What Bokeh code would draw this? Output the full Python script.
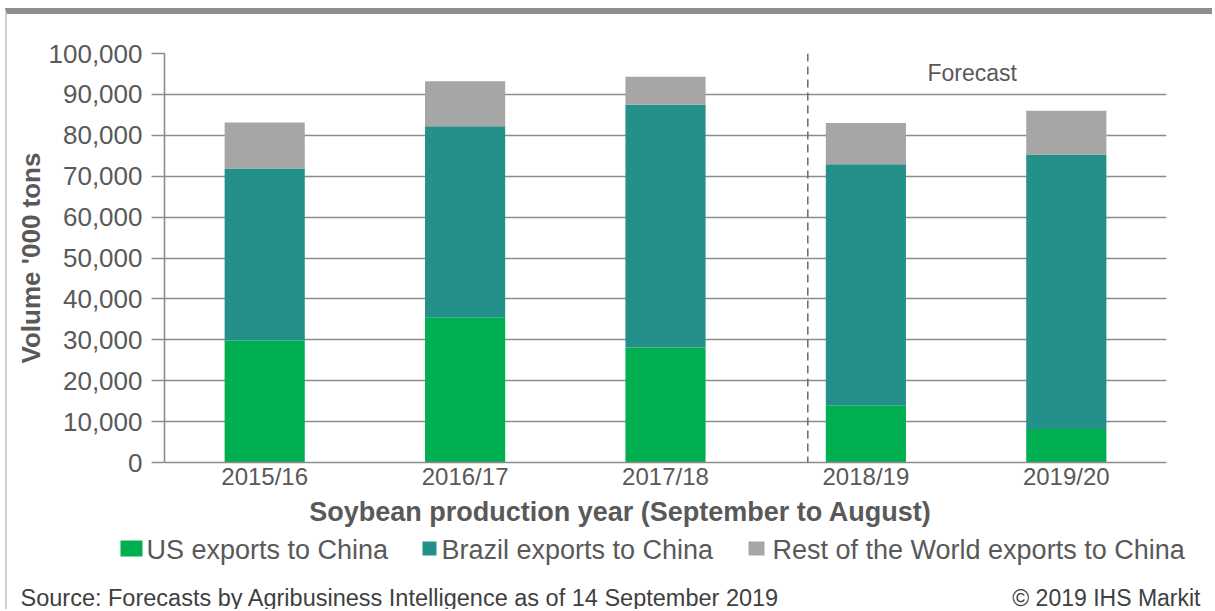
from bokeh.plotting import figure
from bokeh.layouts import column
from bokeh.models import (FactorRange, Range1d, NumeralTickFormatter, Span, Label,
                          ColumnDataSource)
from bokeh.core.properties import value
from bokeh.embed import file_html
from bokeh.resources import INLINE

# ---- data (thousand tons) ----
years = ["2015/16", "2016/17", "2017/18", "2018/19", "2019/20"]
us_exports = [29800, 35500, 28100, 13900, 8200]
brazil_exports = [42100, 46700, 59400, 59000, 67100]
rest_exports = [11200, 11000, 6800, 10100, 10700]
series_names = ["US exports to China", "Brazil exports to China",
                "Rest of the World exports to China"]
series_colors = ["#00b050", "#23918a", "#a6a6a6"]
y_ticks = [0, 10000, 20000, 30000, 40000, 50000, 60000, 70000, 80000, 90000, 100000]
forecast_years = ["2018/19", "2019/20"]
x_title = "Soybean production year (September to August)"
y_title = "Volume '000 tons"
source_text = "Source: Forecasts by Agribusiness Intelligence as of 14 September 2019"
copyright_text = "\u00a9 2019 IHS Markit"

FONT = "Liberation Sans"
TXT = "#595959"
GRID = "#8c8c8c"

W, H1, H2 = 1205, 480, 115
p = figure(x_range=FactorRange(*years), y_range=Range1d(0, 100000),
           width=W, height=H1, output_backend="svg", toolbar_location=None,
           min_border_left=157, min_border_right=46, min_border_top=39,
           min_border_bottom=32)
p.frame_align = False
p.title.visible = False
p.outline_line_color = None

src = ColumnDataSource(dict(year=years, us=us_exports, brazil=brazil_exports,
                            rest=rest_exports))
bar_w = 0.4
rs = p.vbar_stack(["us", "brazil", "rest"], x="year", width=bar_w,
                  color=series_colors, line_color=None, source=src)

# grid
p.xgrid.visible = False
p.ygrid.grid_line_color = GRID
p.ygrid.grid_line_width = 1.6

# y axis
p.yaxis.ticker = y_ticks
p.yaxis.formatter = NumeralTickFormatter(format="0,0")
p.yaxis.axis_line_color = GRID
p.yaxis.axis_line_width = 1.6
p.yaxis.major_tick_line_color = GRID
p.yaxis.major_tick_line_width = 1.6
p.yaxis.major_tick_out = 13
p.yaxis.major_tick_in = 0
p.yaxis.minor_tick_line_color = None
p.yaxis.major_label_standoff = 9
p.yaxis.major_label_text_font = FONT
p.yaxis.major_label_text_font_size = "26px"
p.yaxis.major_label_text_color = TXT
p.yaxis.axis_label = y_title
p.yaxis.axis_label_text_font = FONT
p.yaxis.axis_label_text_font_size = "26px"
p.yaxis.axis_label_text_font_style = "bold"
p.yaxis.axis_label_text_color = TXT
p.yaxis.axis_label_standoff = 0

# x axis (title drawn in the strip below so it can sit left of centre)
p.xaxis.axis_line_color = GRID
p.xaxis.axis_line_width = 1.6
p.xaxis.major_tick_out = 0
p.xaxis.major_tick_in = 0
p.xaxis.major_label_standoff = 0
p.xaxis.major_label_text_font = FONT
p.xaxis.major_label_text_font_size = "24px"
p.xaxis.major_label_text_color = TXT

# forecast divider and label
first_fc = years.index(forecast_years[0])
p.add_layout(Span(location=first_fc + 0.5 - bar_w / 2 - 0.09, dimension="height",
                  line_color="#707070", line_width=1.6, line_dash="8 5"))
fc_center = (first_fc + years.index(forecast_years[-1]) + 1) / 2 + 0.03
p.add_layout(Label(x=fc_center, y=95200, text="Forecast", text_align="center",
                   text_baseline="middle", text_font=FONT, text_font_size="23px",
                   text_color=TXT))

# ---- bottom strip: x title, legend and source notes (pixel coordinates) ----
q = figure(width=W, height=H2, x_range=Range1d(0, W), y_range=Range1d(H2, 0),
           output_backend="svg", toolbar_location=None, min_border=0,
           x_axis_location=None, y_axis_location=None)
q.frame_align = False
q.title.visible = False
q.grid.visible = False
q.outline_line_color = None

q.text(x=[613], y=[17], text=[x_title], text_align="center", text_baseline="middle",
       text_font=value(FONT), text_font_size="27px", text_font_style="bold",
       text_color=TXT)

legend_src = ColumnDataSource(dict(
    name=series_names, color=series_colors,
    bx=[124, 422, 749], bw=[22, 14, 16], bh=[16, 14, 14],
    tx=[139, 434, 765]))
q.rect(x="bx", y=54, width="bw", height="bh", color="color", line_color=None,
       source=legend_src)
q.text(x="tx", y=55, text="name", source=legend_src, text_baseline="middle",
       text_font=value(FONT), text_font_size="27px", text_color=TXT)
q.text(x=[13], y=[103], text=[source_text], text_baseline="middle",
       text_font=value(FONT), text_font_size="23.5px", text_color="#404040")
q.text(x=[1193], y=[103], text=[copyright_text], text_baseline="middle",
       text_align="right", text_font=value(FONT), text_font_size="23px",
       text_color="#404040")

layout = column(p, q, spacing=0)
layout.styles = {"border-top": "6px solid #8e8e8e", "border-left": "2px solid #cfcfcf",
                 "margin-top": "8px", "margin-left": "5px"}

open("out.html", "w").write(file_html(layout, INLINE))
